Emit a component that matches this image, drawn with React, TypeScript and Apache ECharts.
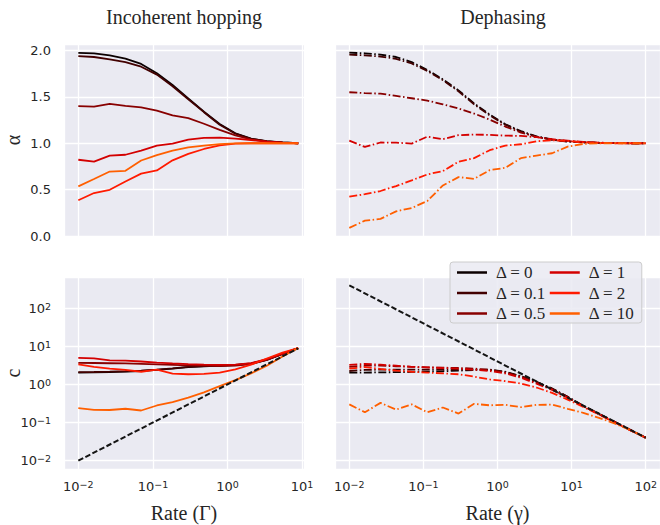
import React, { useEffect, useRef } from 'react';
import * as echarts from 'echarts';

// Rates (shared logarithmic grid of the simulation), Γ for hopping uses the first 15
const rates = [0.01, 0.016238, 0.026367, 0.042813, 0.069519, 0.112884, 0.183298, 0.297635, 0.483293, 0.78476,
  1.274275, 2.069138, 3.359818, 5.455595, 8.858668, 14.384499, 23.357215, 37.926902, 61.584821, 100];

const deltaLabels = ['Δ = 0', 'Δ = 0.1', 'Δ = 0.5', 'Δ = 1', 'Δ = 2', 'Δ = 10'];
const deltaColors = ['#0b0000', '#420000', '#880000', '#d30000', '#ff1a00', '#ff5f00'];

// α, incoherent hopping (15 points)
const hopAlpha0 = [1.975, 1.968, 1.948, 1.912, 1.855, 1.755, 1.628, 1.484, 1.34, 1.208, 1.108, 1.05, 1.022, 1.01, 1.0];
const hopAlpha01 = [1.94, 1.93, 1.905, 1.875, 1.825, 1.74, 1.615, 1.475, 1.335, 1.2, 1.103, 1.048, 1.021, 1.009, 1.0];
const hopAlpha05 = [1.401, 1.394, 1.425, 1.402, 1.387, 1.352, 1.3, 1.27, 1.21, 1.145, 1.085, 1.042, 1.02, 1.007, 1.0];
const hopAlpha1 = [0.822, 0.802, 0.866, 0.876, 0.92, 0.974, 0.995, 1.038, 1.057, 1.06, 1.05, 1.035, 1.018, 1.007, 1.0];
const hopAlpha2 = [0.386, 0.463, 0.498, 0.588, 0.673, 0.707, 0.816, 0.885, 0.938, 0.978, 0.996, 1.0, 1.0, 1.0, 1.0];
const hopAlpha10 = [0.535, 0.614, 0.695, 0.703, 0.814, 0.872, 0.92, 0.955, 0.975, 0.99, 0.998, 1.0, 1.0, 1.0, 1.0];

// α, dephasing (20 points)
const depAlpha0 = [1.976, 1.97, 1.955, 1.93, 1.875, 1.79, 1.69, 1.57, 1.43, 1.31, 1.205, 1.13, 1.075, 1.04, 1.02, 1.01, 1.005, 1.002, 1.0, 1.0];
const depAlpha01 = [1.955, 1.948, 1.935, 1.91, 1.86, 1.78, 1.68, 1.56, 1.42, 1.3, 1.2, 1.125, 1.072, 1.038, 1.018, 1.008, 1.003, 1.001, 1.0, 1.0];
const depAlpha05 = [1.55, 1.54, 1.535, 1.51, 1.485, 1.46, 1.42, 1.375, 1.32, 1.255, 1.18, 1.115, 1.068, 1.04, 1.022, 1.012, 1.005, 1.002, 1.0, 1.0];
const depAlpha1 = [1.028, 0.96, 1.008, 1.007, 0.996, 1.071, 1.044, 1.087, 1.094, 1.09, 1.082, 1.079, 1.065, 1.043, 1.029, 1.014, 1.007, 1.002, 1.0, 1.0];
const depAlpha2 = [0.424, 0.451, 0.485, 0.538, 0.6, 0.664, 0.7, 0.8, 0.84, 0.925, 0.975, 0.989, 1.022, 1.032, 1.025, 1.01, 1.003, 1.0, 1.0, 1.0];
const depAlpha10 = [0.087, 0.166, 0.184, 0.266, 0.302, 0.377, 0.545, 0.635, 0.616, 0.71, 0.735, 0.839, 0.867, 0.892, 0.964, 0.993, 1.0, 1.0, 1.0, 1.0];

// c, incoherent hopping (15 points)
const hopC0 = [2.05, 2.08, 2.12, 2.18, 2.25, 2.4, 2.6, 2.85, 3.0, 3.1, 3.2, 3.5, 4.4, 6.3, 9.0];
const hopC01 = [2.1, 2.12, 2.16, 2.22, 2.3, 2.45, 2.65, 2.9, 3.05, 3.15, 3.25, 3.55, 4.45, 6.35, 9.0];
const hopC05 = [3.7, 3.65, 3.6, 3.55, 3.45, 3.35, 3.25, 3.15, 3.1, 3.05, 3.1, 3.4, 4.4, 6.3, 9.0];
const hopC1 = [4.95, 4.85, 4.3, 4.2, 4.0, 3.75, 3.55, 3.4, 3.3, 3.25, 3.3, 3.6, 4.6, 6.4, 9.0];
const hopC2 = [3.35, 2.9, 2.6, 2.4, 2.15, 2.45, 1.92, 1.85, 1.9, 2.05, 2.5, 3.3, 4.8, 6.8, 9.0];
const hopC10 = [0.24, 0.215, 0.213, 0.23, 0.207, 0.28, 0.345, 0.45, 0.62, 0.9, 1.3, 1.95, 3.1, 5.4, 9.0];

// c, dephasing (20 points)
const depC0 = [2.03, 2.05, 2.07, 2.1, 2.13, 2.17, 2.22, 2.3, 2.4, 2.45, 2.15, 1.65, 1.17, 0.785, 0.475, 0.275, 0.169, 0.104, 0.064, 0.04];
const depC01 = [2.25, 2.4, 2.45, 2.45, 2.45, 2.45, 2.45, 2.45, 2.45, 2.4, 2.1, 1.62, 1.15, 0.77, 0.47, 0.272, 0.168, 0.104, 0.064, 0.04];
const depC05 = [2.9, 3.1, 3.1, 3.0, 2.9, 2.8, 2.75, 2.7, 2.6, 2.4, 2.05, 1.6, 1.12, 0.76, 0.46, 0.27, 0.167, 0.104, 0.064, 0.04];
const depC1 = [3.25, 3.45, 3.3, 3.1, 2.9, 2.8, 2.7, 2.6, 2.45, 2.25, 1.95, 1.5, 1.05, 0.72, 0.45, 0.268, 0.166, 0.103, 0.064, 0.04];
const depC2 = [2.6, 2.85, 2.55, 2.3, 2.15, 2.05, 1.95, 1.85, 1.6, 1.35, 1.22, 1.06, 0.83, 0.6, 0.4, 0.255, 0.163, 0.101, 0.063, 0.04];
const depC10 = [0.3, 0.186, 0.328, 0.218, 0.3, 0.186, 0.248, 0.172, 0.309, 0.283, 0.291, 0.253, 0.291, 0.294, 0.229, 0.18, 0.132, 0.095, 0.064, 0.04];

// dashed reference lines (end points)
const hopRefX = [0.01, 8.858668];
const hopRefC = [0.01, 8.858668];
const depRefX = [0.01, 100];
const depRefC = [400, 0.04];

const hopAlpha = [hopAlpha0, hopAlpha01, hopAlpha05, hopAlpha1, hopAlpha2, hopAlpha10];
const depAlpha = [depAlpha0, depAlpha01, depAlpha05, depAlpha1, depAlpha2, depAlpha10];
const hopC = [hopC0, hopC01, hopC05, hopC1, hopC2, hopC10];
const depC = [depC0, depC01, depC05, depC1, depC2, depC10];

const TICK_COLOR = '#262626';
const SERIF = 'Liberation Serif';
const SANS = 'DejaVu Sans';

function powLabel(v: number) {
  const e = Math.log10(v);
  const r = Math.round(e);
  if (Math.abs(e - r) > 1e-6) return '';
  const s = r < 0 ? '\u2212' + -r : String(r);
  return '{b|10}{s|' + s + '}';
}
const powRich = {
  b: { fontSize: 13, fontFamily: SANS, color: TICK_COLOR, lineHeight: 14, verticalAlign: 'middle' },
  s: { fontSize: 9.5, fontFamily: SANS, color: TICK_COLOR, lineHeight: 8, verticalAlign: 'top' },
};

const splitLine = { show: true, lineStyle: { color: '#ffffff', width: 1.3 } };

function logX(gridIndex: number, minExp: number, maxExp: number, showLabels: boolean, name: string) {
  return {
    type: 'log', logBase: 10, gridIndex,
    min: Math.pow(10, minExp), max: Math.pow(10, maxExp),
    axisLine: { show: false }, axisTick: { show: false },
    splitLine, minorSplitLine: { show: false },
    axisLabel: { show: showLabels, formatter: powLabel, rich: powRich, margin: 10 },
    name, nameLocation: 'middle', nameGap: 34, nameMoveOverlap: false,
    nameTextStyle: { fontFamily: SERIF, fontSize: 20, color: TICK_COLOR },
  };
}

function alphaY(gridIndex: number, showLabels: boolean, name: string) {
  return {
    type: 'value', gridIndex, min: 0, max: 2.07, minInterval: 0.5, maxInterval: 0.5,
    axisLine: { show: false }, axisTick: { show: false }, splitLine,
    axisLabel: {
      show: showLabels, margin: 13, fontFamily: SANS, fontSize: 13, color: TICK_COLOR,
      formatter: (v: number) => (Math.abs(v * 2 - Math.round(v * 2)) < 1e-9 ? v.toFixed(1) : ''),
    },
    name, nameLocation: 'middle', nameGap: 41, nameMoveOverlap: false,
    nameTextStyle: { fontFamily: SERIF, fontSize: 20, color: TICK_COLOR },
  };
}

function cY(gridIndex: number, showLabels: boolean, name: string) {
  return {
    type: 'log', logBase: 10, gridIndex, min: Math.pow(10, -2.22), max: Math.pow(10, 2.82),
    axisLine: { show: false }, axisTick: { show: false }, splitLine, minorSplitLine: { show: false },
    axisLabel: { show: showLabels, margin: 13, formatter: powLabel, rich: powRich },
    name, nameLocation: 'middle', nameGap: 41, nameMoveOverlap: false,
    nameTextStyle: { fontFamily: SERIF, fontSize: 20, color: TICK_COLOR },
  };
}

const DASHDOT = [8, 2.5, 1.5, 2.5];

function buildSeries() {
  const series: any[] = [];
  const panels = [
    { vals: hopAlpha, axis: 0, dash: 'solid' as any },
    { vals: depAlpha, axis: 1, dash: DASHDOT },
    { vals: hopC, axis: 2, dash: 'solid' as any },
    { vals: depC, axis: 3, dash: DASHDOT },
  ];
  panels.forEach((p) => {
    p.vals.forEach((arr, i) => {
      series.push({
        type: 'line', name: deltaLabels[i], xAxisIndex: p.axis, yAxisIndex: p.axis,
        data: arr.map((v, k) => [rates[k], v]),
        symbol: 'none', showSymbol: false, silent: true,
        lineStyle: { color: deltaColors[i], width: 1.8, type: p.dash, cap: 'butt' },
        itemStyle: { color: deltaColors[i] },
        z: 2 + i * 0.01,
      });
    });
  });
  series.push({
    type: 'line', name: 'ref-hopping', xAxisIndex: 2, yAxisIndex: 2,
    data: hopRefX.map((x, k) => [x, hopRefC[k]]), symbol: 'none', silent: true,
    lineStyle: { color: '#141414', width: 2, type: [5.5, 2.4] }, z: 3,
  });
  series.push({
    type: 'line', name: 'ref-dephasing', xAxisIndex: 3, yAxisIndex: 3,
    data: depRefX.map((x, k) => [x, depRefC[k]]), symbol: 'none', silent: true,
    lineStyle: { color: '#141414', width: 2, type: [5.5, 2.4] }, z: 3,
  });
  return series;
}

const gridBase = { show: true, backgroundColor: '#EAEAF2', borderWidth: 0, containLabel: false, outerBoundsMode: 'none' };

export default function App() {
  const ref = useRef<HTMLDivElement>(null);
  useEffect(() => {
    const chart = echarts.init(ref.current!, null, { renderer: 'svg' });
    const titleStyle = { fontFamily: SERIF, fontSize: 20, fontWeight: 'normal', color: TICK_COLOR };
    const option: any = {
      animation: false,
      backgroundColor: '#ffffff',
      title: [
        { text: 'Incoherent hopping', left: 184, top: 7, textAlign: 'center', padding: 0, textStyle: titleStyle },
        { text: 'Dephasing', left: 503, top: 7, textAlign: 'center', padding: 0, textStyle: titleStyle },
      ],
      grid: [
        { ...gridBase, left: 64, top: 44, width: 240, height: 192 },
        { ...gridBase, left: 335, top: 44, width: 325, height: 192 },
        { ...gridBase, left: 64, top: 277, width: 240, height: 192 },
        { ...gridBase, left: 335, top: 277, width: 325, height: 192 },
      ],
      xAxis: [
        logX(0, -2.192, 1.025, false, ''),
        logX(1, -2.193, 2.193, false, ''),
        logX(2, -2.192, 1.025, true, 'Rate (Γ)'),
        logX(3, -2.193, 2.193, true, 'Rate (γ)'),
      ],
      yAxis: [
        alphaY(0, true, 'α'),
        alphaY(1, false, ''),
        cY(2, true, 'c'),
        cY(3, false, ''),
      ],
      legend: {
        orient: 'vertical', left: 450, top: 262, height: 62,
        padding: [2, 7, 1, 7], itemGap: 3.5, itemWidth: 30, itemHeight: 2.5,
        icon: 'rect',
        backgroundColor: 'rgba(234,234,242,0.85)', borderColor: '#cccccc', borderWidth: 1, borderRadius: 3,
        textStyle: { fontFamily: SERIF, fontSize: 17, color: TICK_COLOR, padding: [0, 0, 0, 4] },
        data: deltaLabels.map((n, i) => ({ name: n, textStyle: { width: i < 3 ? 67 : 46 } })),
        selectedMode: false,
      },
      series: buildSeries(),
    };
    chart.setOption(option);
    return () => chart.dispose();
  }, []);
  return (
    <div
      ref={ref}
      style={{ position: 'absolute', left: 0, top: 0, width: 660, height: 525, background: '#fff' }}
    />
  );
}
